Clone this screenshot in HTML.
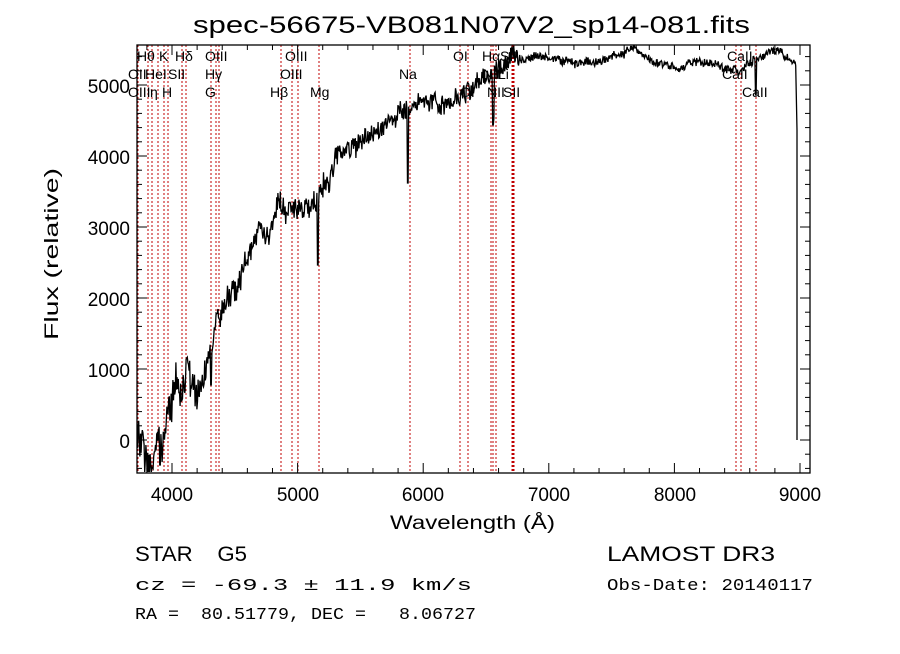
<!DOCTYPE html>
<html><head><meta charset="utf-8"><style>
html,body{margin:0;padding:0;background:#fff;}
svg text{font-family:"Liberation Sans",sans-serif;fill:#000;white-space:pre;}
.s{font-family:"Liberation Serif",serif !important;font-size:14px;}
.m{font-family:"Liberation Mono",monospace !important;font-size:17px;}
</style></head><body>
<svg id="c" width="900" height="649" viewBox="0 0 900 649" xmlns="http://www.w3.org/2000/svg" xml:space="preserve">
<text x="193" y="33" font-size="24" textLength="557" lengthAdjust="spacingAndGlyphs">spec-56675-VB081N07V2_sp14-081.fits</text>
<g id="lines" stroke="#c00000" stroke-width="1" stroke-dasharray="2,2"></g>
<g id="ticks" stroke="#000" stroke-width="1"></g>
<path id="spec" fill="none" stroke="#000" stroke-width="1.3"/>
<rect x="137" y="45" width="673" height="428" fill="none" stroke="#000" stroke-width="1.3"/>
<g font-size="19" text-anchor="middle">
<text x="172" y="501">4000</text><text x="298" y="501">5000</text><text x="423" y="501">6000</text>
<text x="549" y="501">7000</text><text x="675" y="501">8000</text><text x="800" y="501">9000</text>
</g>
<g font-size="19" text-anchor="end">
<text x="130" y="448">0</text><text x="130" y="377">1000</text><text x="130" y="306">2000</text>
<text x="130" y="235">3000</text><text x="130" y="164">4000</text><text x="130" y="93">5000</text>
</g>
<text x="390" y="529" font-size="19" textLength="165" lengthAdjust="spacingAndGlyphs">Wavelength (Å)</text>
<text transform="translate(58,340) rotate(-90)" font-size="19" textLength="172" lengthAdjust="spacingAndGlyphs">Flux (relative)</text>
<g class="s">
<text x="137" y="61">Hθ</text><text x="159" y="61">K</text><text x="175" y="61">Hδ</text><text x="205" y="61">OIII</text><text x="285" y="61">OIII</text><text x="453" y="61">OI</text><text x="482" y="61">Hα</text><text x="500" y="61">SII</text><text x="727" y="61">CaII</text>
<text x="128" y="79">OII</text><text x="145" y="79">HeI</text><text x="168" y="79">SII</text><text x="205" y="79">Hγ</text><text x="280" y="79">OIII</text><text x="399" y="79">Na</text><text x="483" y="79">NII</text><text x="498" y="79">Li</text><text x="722" y="79">CaII</text>
<text x="128" y="97">OIII</text><text x="150" y="97">η</text><text x="162" y="97">H</text><text x="205" y="97">G</text><text x="270" y="97">Hβ</text><text x="310" y="97">Mg</text><text x="460" y="97">OI</text><text x="487" y="97">NII</text><text x="503" y="97">SII</text><text x="742" y="97">CaII</text>
</g>
<text x="135" y="561" font-size="21" textLength="112" lengthAdjust="spacingAndGlyphs">STAR    G5</text>
<text x="607" y="561" font-size="21" textLength="168" lengthAdjust="spacingAndGlyphs">LAMOST DR3</text>
<text x="135" y="590" class="m" textLength="337" lengthAdjust="spacingAndGlyphs">cz = -69.3 ± 11.9 km/s</text>
<text x="607" y="590" class="m" textLength="206" lengthAdjust="spacingAndGlyphs">Obs-Date: 20140117</text>
<text x="135" y="619" class="m" textLength="341" lengthAdjust="spacingAndGlyphs">RA =  80.51779, DEC =   8.06727</text>
</svg>
<script>
(function(){
var ns="http://www.w3.org/2000/svg";
function L(g,x1,y1,x2,y2){var e=document.createElementNS(ns,"line");e.setAttribute("x1",x1);e.setAttribute("y1",y1);e.setAttribute("x2",x2);e.setAttribute("y2",y2);g.appendChild(e);}
var lg=document.getElementById("lines");
[138,148,152,158,164,168,182,186,211,216,219,281,292,298,319,410,460,468,491,493,496,512,513,514,736,741,756].forEach(function(x){L(lg,x,45,x,473);});
var tg=document.getElementById("ticks");
for(var w=3800;w<=9000;w+=200){var x=172+(w-4000)*0.1256;var len=(w%1000==0)?10:5;L(tg,x,473,x,473-len);L(tg,x,45,x,45+len);}
for(var f=-400;f<=5400;f+=200){var y=440-f*0.071;var len=(f%1000==0)?10:5;L(tg,137,y,137+len,y);L(tg,810,y,810-len,y);}
var k=[[137,440],[150,452],[160,448],[168,420],[172,395],[180,380],[188,375],[195,385],[205,370],[210,355],[215,330],[225,310],[235,285],[245,262],[255,245],[265,228],[280,215],[300,210],[310,200],[320,185],[340,160],[360,140],[380,130],[400,115],[420,105],[440,100],[460,95],[470,88],[490,70],[500,62],[520,58],[560,60],[600,62],[620,55],[630,47],[650,60],[680,66],[700,62],[740,72],[760,58],[780,50],[795,62]];
var s=12345;function r(){s=(s*16807)%2147483647;return s/2147483647-0.5;}
function base(x){for(var i=0;i<k.length-1;i++){if(x<=k[i+1][0]){var t=(x-k[i][0])/(k[i+1][0]-k[i][0]);return k[i][1]+t*(k[i+1][1]-k[i][1]);}}return k[k.length-1][1];}
var dips={408:183,318:265,493:125,756:95,211:385,160:465,236:300,494:118,356:158,470:100};
var d="",slow=0;
for(var x=137.5;x<=796;x+=0.6){var b=base(x);var amp=x<200?45:(x<340?30:(x<520?22:10));slow=slow*0.9+r()*amp*0.25;var n=slow+r()*amp*0.8;var y=b+n;
for(var dx in dips){if(Math.abs(x-dx)<0.5)y=dips[dx];}
y=Math.max(46,Math.min(472,y));d+=(d?"L":"M")+x.toFixed(1)+","+y.toFixed(1);}
d+="L797,130L797,300L797,190L797,410L797,440";
document.getElementById("spec").setAttribute("d",d);
})();
</script>
</body></html>
